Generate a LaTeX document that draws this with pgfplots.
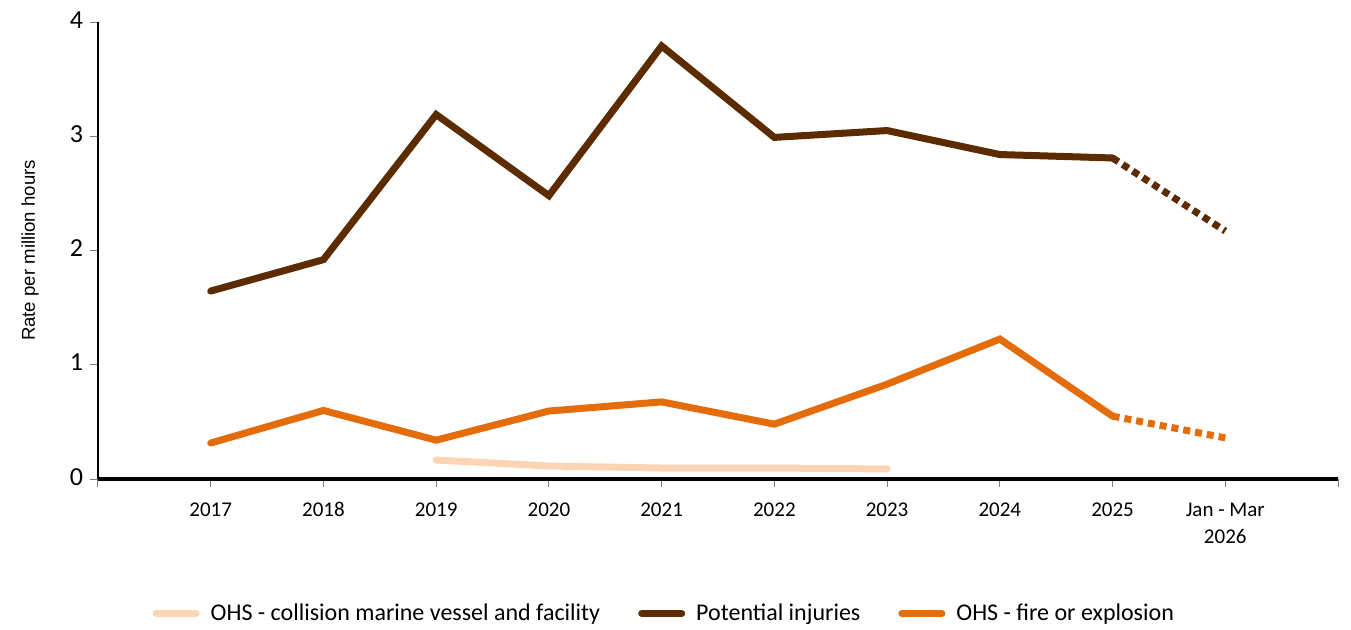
\documentclass[border=0pt]{standalone}
\usepackage{fontspec}
\setmainfont{Carlito}
\newfontfamily\arialfont{Liberation Sans}
\usepackage{pgfplots}
\pgfplotsset{compat=1.18}
\definecolor{peach}{HTML}{FCD5B4}
\definecolor{brown}{HTML}{5C2B00}
\definecolor{orng}{HTML}{E46C0A}
\begin{document}
\begin{tikzpicture}
\useasboundingbox (-49pt,-75pt) rectangle (626.5pt,239.5pt);
\begin{axis}[
  scale only axis, width=620pt, height=228.5pt,
  xmin=-1, xmax=10, ymin=0, ymax=4,
  axis x line*=bottom, axis y line*=left,
  x axis line style={line width=1.6pt, -},
  y axis line style={line width=0.9pt, -},
  xtick={-1,0,...,10},
  xticklabels={,2017,2018,2019,2020,2021,2022,2023,2024,2025,{Jan - Mar\\[1pt]2026},},
  typeset ticklabels with strut,
  xticklabel style={align=center, yshift=-2.5pt, font=\fontsize{10.5pt}{12.5pt}\selectfont},
  ytick={0,1,2,3,4},
  yticklabel style={font=\fontsize{13pt}{15pt}\selectfont},
  /pgf/number format/assume math mode=true,
  tick align=outside,
  major tick length=4pt,
  tick style={gray, line width=0.5pt},
  ylabel={\arialfont\fontsize{9.3pt}{11pt}\selectfont Rate per million hours},
  every axis y label/.style={at={(axis description cs:-0.0548,0.5)}, rotate=90, anchor=center},
  legend style={at={(rel axis cs:0.4575,-0.294)}, anchor=center, draw=none,
    font=\fontsize{12pt}{14pt}\selectfont, legend columns=3,
    /tikz/every odd column/.append style={column sep=3.5pt},
    /tikz/every even column/.append style={column sep=17pt}},
  legend image code/.code={\draw[#1, line width=3.5pt] (0pt,0pt) -- (20pt,0pt);},
  clip=false,
]
\addplot[peach, line width=3.5pt, line cap=round] coordinates {
 (2,0.166) (3,0.114) (4,0.096) (5,0.096) (6,0.088)};
\addlegendentry{OHS - collision marine vessel and facility}
\addplot[brown, line width=3.5pt, line cap=round] coordinates {
 (0,1.645) (1,1.92) (2,3.19) (3,2.48) (4,3.79) (5,2.99) (6,3.05) (7,2.84) (8,2.81)};
\addlegendentry{Potential injuries}
\addplot[orng, line width=3.5pt, line cap=round] coordinates {
 (0,0.315) (1,0.60) (2,0.34) (3,0.595) (4,0.675) (5,0.48) (6,0.83) (7,1.225) (8,0.55)};
\addlegendentry{OHS - fire or explosion}
\addplot[brown, line width=3.5pt, dash pattern=on 3.5pt off 2.5pt, forget plot] coordinates {
 (8,2.81) (9,2.17)};
\addplot[orng, line width=3.5pt, dash pattern=on 3.5pt off 2.5pt, forget plot] coordinates {
 (8,0.55) (9,0.36)};
\end{axis}
\end{tikzpicture}
\end{document}
